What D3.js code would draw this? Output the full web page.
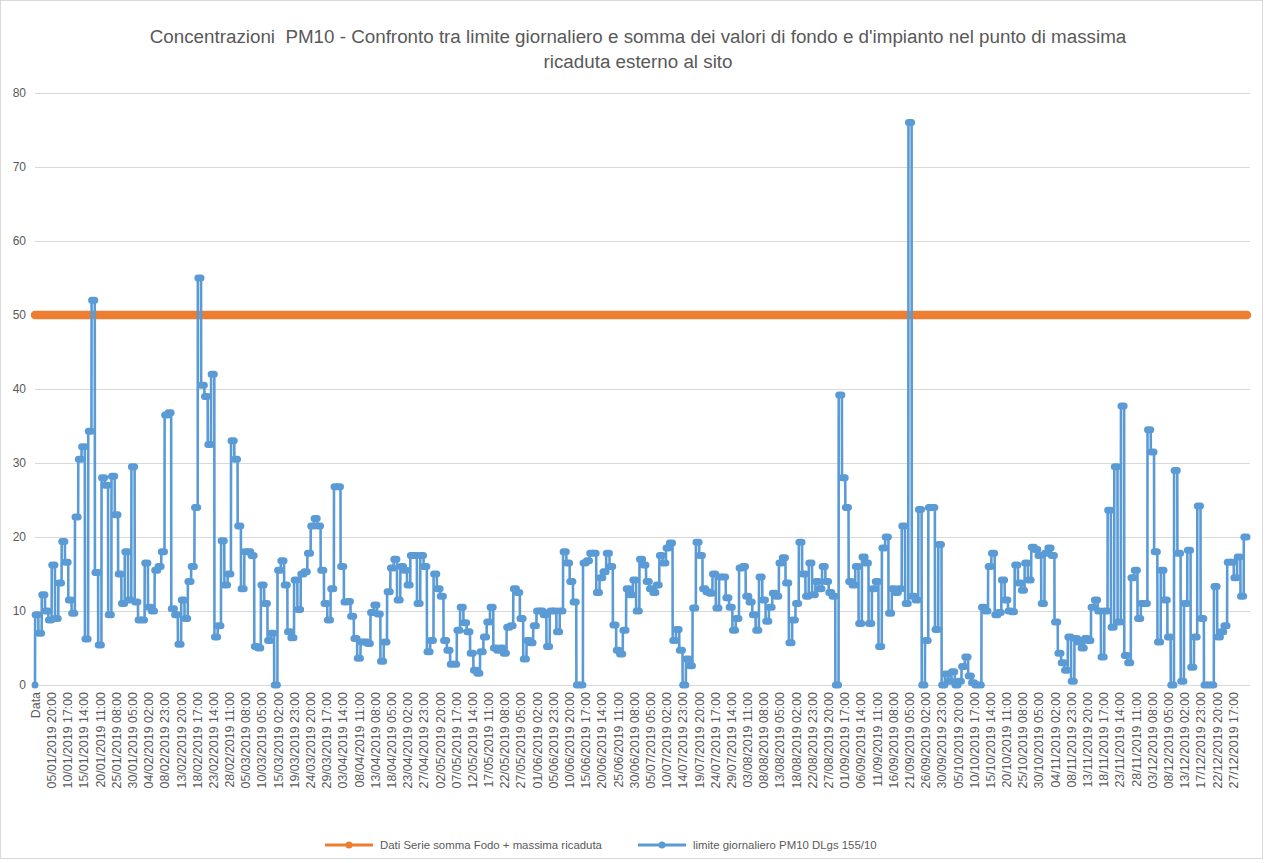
<!DOCTYPE html>
<html>
<head>
<meta charset="utf-8">
<script src="https://cdn.jsdelivr.net/npm/d3@7"></script>
<style>
  body { margin: 0; background: #fff; }
  text { font-family: "Liberation Sans", Arial, sans-serif; fill: #595959; }
</style>
</head>
<body>
<script>
// daily PM10 values (hourly series in the source is constant within each day)
var jan = [9.5, 7, 12.2, 10, 8.8, 16.2, 9, 13.8, 19.4, 16.6, 11.5, 9.7, 22.7, 30.5, 32.2, 6.2, 34.3, 52, 15.2, 5.4, 28, 27, 9.5, 28.2, 23, 15, 11, 18, 11.5, 29.5, 11.2];
var feb = [8.8, 8.8, 16.5, 10.5, 10, 15.5, 16, 18, 36.5, 36.8, 10.3, 9.5, 5.5, 11.5, 9, 14, 16, 24, 55, 40.5, 39, 32.5, 42, 6.5, 8, 19.5, 13.5, 15];
var mar = [33, 30.5, 21.5, 13, 18, 18, 17.5, 5.2, 5, 13.5, 11, 6, 7, 0, 15.5, 16.8, 13.5, 7.2, 6.4, 14.2, 10.2, 15, 15.3, 17.8, 21.5, 22.5, 21.5, 15.5, 11, 8.8, 13];
var apr = [26.8, 26.8, 16, 11.2, 11.3, 9.3, 6.3, 3.6, 5.8, 5.8, 5.6, 9.8, 10.8, 9.6, 3.2, 5.8, 12.6, 15.8, 17, 11.5, 16, 15.5, 13.5, 17.5, 17.5, 11, 17.5, 16, 4.5, 6];
var may = [15, 13, 12, 6, 4.7, 2.8, 2.8, 7.4, 10.5, 8.4, 7.2, 4.3, 2, 1.6, 4.5, 6.5, 8.5, 10.5, 5, 4.7, 5, 4.3, 7.8, 8, 13, 12.5, 9, 3.5, 6, 5.7, 8];
var jun = [10, 10, 9.5, 5.2, 10, 10, 7.2, 10, 18, 16.5, 14, 11.2, 0, 0, 16.5, 16.8, 17.8, 17.8, 12.5, 14.5, 15.3, 17.8, 16, 8.1, 4.7, 4.2, 7.4, 13, 12.2, 14.2];
var jul = [10, 17, 16.2, 14, 13, 12.5, 13.5, 17.5, 16.5, 18.5, 19.2, 6, 7.5, 4.7, 0, 3.5, 2.6, 10.4, 19.3, 17.5, 13, 12.6, 12.4, 15, 10.4, 14.6, 14.6, 11.8, 10.5, 7.4, 9];
var aug = [15.8, 16, 12, 11.2, 9.5, 7.4, 14.6, 11.5, 8.6, 10.5, 12.4, 12, 16.5, 17.2, 13.8, 5.7, 8.8, 11, 19.3, 15, 12, 16.5, 12.2, 14, 13, 16, 14, 12.5, 12, 0, 39.2];
var sep = [28, 24, 14, 13.5, 16, 8.3, 17.3, 16.5, 8.3, 13, 14, 5.2, 18.5, 20, 9.7, 13, 12.5, 13, 21.5, 11, 76, 12, 11.5, 23.7, 0, 6, 24, 24, 7.5, 19];
var oct = [0, 1.5, 0.5, 1.8, 0, 0.5, 2.5, 3.8, 1.2, 0.3, 0, 0, 10.5, 10, 16, 17.8, 9.5, 9.8, 14.2, 11.5, 10, 9.9, 16.2, 13.8, 12.8, 16.5, 14.2, 18.6, 18.3, 17.5, 11];
var nov = [17.8, 18.5, 17.5, 8.5, 4.3, 3, 2, 6.5, 0.5, 6.3, 5.8, 5, 6.3, 6, 10.5, 11.5, 10, 3.8, 10, 23.6, 7.8, 29.5, 8.5, 37.7, 4, 3, 14.5, 15.5, 9, 11];
var dec = [11, 34.5, 31.5, 18, 5.8, 15.5, 11.5, 6.5, 0, 29, 17.8, 0.5, 11, 18.2, 2.4, 6.5, 24.2, 9, 0, 0, 0, 13.3, 6.5, 7.2, 8, 16.6, 16.6, 14.5, 17.3, 12, 20];

var headerValue = 0;      // the "Data" header row, plotted as 0
var limitValue = 50;      // limite giornaliero PM10

var tickLabels = ["Data",
  "05/01/2019 20:00","10/01/2019 17:00","15/01/2019 14:00","20/01/2019 11:00","25/01/2019 08:00","30/01/2019 05:00",
  "04/02/2019 02:00","08/02/2019 23:00","13/02/2019 20:00","18/02/2019 17:00","23/02/2019 14:00","28/02/2019 11:00",
  "05/03/2019 08:00","10/03/2019 05:00","15/03/2019 02:00","19/03/2019 23:00","24/03/2019 20:00","29/03/2019 17:00",
  "03/04/2019 14:00","08/04/2019 11:00","13/04/2019 08:00","18/04/2019 05:00","23/04/2019 02:00","27/04/2019 23:00",
  "02/05/2019 20:00","07/05/2019 17:00","12/05/2019 14:00","17/05/2019 11:00","22/05/2019 08:00","27/05/2019 05:00",
  "01/06/2019 02:00","05/06/2019 23:00","10/06/2019 20:00","15/06/2019 17:00","20/06/2019 14:00","25/06/2019 11:00","30/06/2019 08:00",
  "05/07/2019 05:00","10/07/2019 02:00","14/07/2019 23:00","19/07/2019 20:00","24/07/2019 17:00","29/07/2019 14:00",
  "03/08/2019 11:00","08/08/2019 08:00","13/08/2019 05:00","18/08/2019 02:00","22/08/2019 23:00","27/08/2019 20:00",
  "01/09/2019 17:00","06/09/2019 14:00","11/09/2019 11:00","16/09/2019 08:00","21/09/2019 05:00","26/09/2019 02:00","30/09/2019 23:00",
  "05/10/2019 20:00","10/10/2019 17:00","15/10/2019 14:00","20/10/2019 11:00","25/10/2019 08:00","30/10/2019 05:00",
  "04/11/2019 02:00","08/11/2019 23:00","13/11/2019 20:00","18/11/2019 17:00","23/11/2019 14:00","28/11/2019 11:00",
  "03/12/2019 08:00","08/12/2019 05:00","13/12/2019 02:00","17/12/2019 23:00","22/12/2019 20:00","27/12/2019 17:00"];

var yTicks = [0, 10, 20, 30, 40, 50, 60, 70, 80];

var titleLines = ["Concentrazioni  PM10 - Confronto tra limite giornaliero e somma dei valori di fondo e d'impianto nel punto di massima",
                  "ricaduta esterno al sito"];
var seriesNames = ["Dati Serie somma Fodo + massima ricaduta", "limite giornaliero PM10 DLgs 155/10"];
var colors = ["#ED7D31", "#5B9BD5"];

var daily = [].concat(jan, feb, mar, apr, may, jun, jul, aug, sep, oct, nov, dec);
var nHours = daily.length * 24;

var width = 1266,
    height = 863;

var svg = d3.select("body").append("svg")
    .attr("width", width)
    .attr("height", height);

svg.append("rect")
    .attr("x", 0.5).attr("y", 0.5)
    .attr("width", 1262).attr("height", 858)
    .attr("fill", "#fff")
    .attr("stroke", "#D9D9D9");

var x = d3.scaleLinear().domain([0, nHours]).range([35, 1247]);
var y = d3.scaleLinear().domain([0, 80]).range([685, 93]);

// title
svg.append("g").selectAll("text")
    .data(titleLines)
    .enter().append("text")
    .attr("x", 638)
    .attr("y", function(d, i) { return 43 + i * 25; })
    .attr("text-anchor", "middle")
    .style("font-size", "18.8px")
    .style("white-space", "pre")
    .text(function(d) { return d; });

// gridlines
svg.append("g").selectAll("line")
    .data(yTicks)
    .enter().append("line")
    .attr("x1", 35).attr("x2", 1250)
    .attr("y1", function(d) { return Math.round(y(d)) + 0.5; })
    .attr("y2", function(d) { return Math.round(y(d)) + 0.5; })
    .attr("stroke", "#D9D9D9")
    .attr("stroke-width", 1);

// y axis
var yAxis = svg.append("g")
    .attr("transform", "translate(35,0)")
    .call(d3.axisLeft(y).tickValues(yTicks).tickSize(0).tickPadding(9));
yAxis.select(".domain").remove();
yAxis.selectAll("text").style("font-size", "12px").style("font-family", null).attr("fill", "#595959");

// x axis: category index of each label (hours since 01/01/2019 00:00, +1 for the header row)
var parse = d3.utcParse("%d/%m/%Y %H:%M");
var t0 = Date.UTC(2019, 0, 1);
var tickIdx = tickLabels.map(function(s) {
    var d = parse(s);
    return d ? (d - t0) / 3600000 + 1 : 0;
});
var xAxis = svg.append("g")
    .attr("transform", "translate(0,685)")
    .call(d3.axisBottom(x).tickValues(tickIdx).tickSize(0)
        .tickFormat(function(d, i) { return tickLabels[i]; }));
xAxis.select(".domain").attr("stroke", "#D9D9D9").attr("d", "M35,0.5H1250");
xAxis.selectAll("text")
    .style("font-size", "12.4px").style("font-family", null)
    .attr("fill", "#595959")
    .attr("text-anchor", "end")
    .attr("transform", "rotate(-90)")
    .attr("x", -7).attr("y", 0).attr("dy", "0.35em");

// orange series: constant limit over every category
svg.append("line")
    .attr("x1", x(0)).attr("x2", x(nHours))
    .attr("y1", y(limitValue)).attr("y2", y(limitValue))
    .attr("stroke", colors[0])
    .attr("stroke-width", 8.5)
    .attr("stroke-linecap", "round");

// blue series
var pts = [[0, headerValue]];
daily.forEach(function(v, d) {
    pts.push([1 + d * 24, v]);
    pts.push([24 + d * 24, v]);
});

var line = d3.line()
    .x(function(d) { return x(d[0]); })
    .y(function(d) { return y(d[1]); });

svg.append("path")
    .datum(pts)
    .attr("fill", "none")
    .attr("stroke", colors[1])
    .attr("stroke-width", 2.6)
    .attr("stroke-linejoin", "round")
    .attr("d", line);

// hourly markers overlap into round-capped bars
var mk = "M" + x(0) + "," + y(headerValue) + "h0";
daily.forEach(function(v, d) {
    mk += "M" + x(1 + d * 24) + "," + y(v) + "H" + x(24 + d * 24);
});
svg.append("path")
    .attr("d", mk)
    .attr("fill", "none")
    .attr("stroke", colors[1])
    .attr("stroke-width", 7)
    .attr("stroke-linecap", "round");

// legend
var legend = svg.append("g").attr("transform", "translate(0,845)");
var lx = [325, 638];
seriesNames.forEach(function(name, i) {
    var g = legend.append("g").attr("transform", "translate(" + lx[i] + ",0)");
    g.append("line").attr("x1", 0).attr("x2", 48).attr("y1", 0).attr("y2", 0)
        .attr("stroke", colors[i]).attr("stroke-width", 3);
    g.append("circle").attr("cx", 24).attr("cy", 0).attr("r", 3.5).attr("fill", colors[i]);
    g.append("text").attr("x", 55).attr("y", 0).attr("dy", "0.35em")
        .style("font-size", "11.4px").text(name);
});
</script>
</body>
</html>
